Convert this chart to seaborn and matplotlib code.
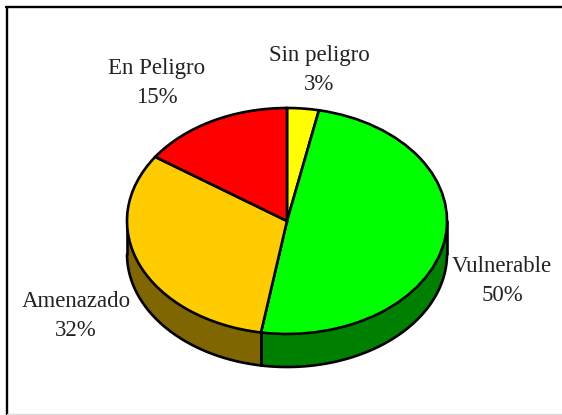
import numpy as np
import seaborn as sns
import matplotlib.pyplot as plt

labels = ['Sin peligro', 'Vulnerable', 'Amenazado', 'En Peligro']
valores = [3.2, 49.4, 32.0, 15.4]
textos = ['3%', '50%', '32%', '15%']
colores = ['#FFFF00', '#00FF00', '#FFCC00', '#FF0000']
oscuros = ['#808000', '#008000', '#806600', '#800000']

sns.set_theme(style="white")
plt.rcParams['font.family'] = ['Liberation Serif', 'DejaVu Serif']

W, H = 562, 415
fig = plt.figure(figsize=(W / 100, H / 100), dpi=100)
ax = fig.add_axes([0, 0, 1, 1])

# la elipse del pastel: 1 unidad = 160 px en x, 113 px en y
cx, cy, rx, ry, prof = 287, 221, 160, 113, 33 / 113
grosor = 1.9

# lados del pastel (solo la parte de delante)
inicio = 0
for v, c in zip(valores, oscuros):
    fin = inicio + v
    a = np.radians(np.linspace(inicio, fin, 200) * 3.6)
    a = a[np.cos(a) <= 0.0001]
    if len(a):
        x = np.sin(a)
        y = np.cos(a)
        ax.fill_between(x, y, y - prof, color=c, lw=0, zorder=1)
        ax.plot(x, y - prof, color='black', lw=grosor, zorder=2)
        for xa, ya in [(x[0], y[0]), (x[-1], y[-1])]:
            ax.plot([xa, xa], [ya, ya - prof], color='black', lw=grosor, zorder=2)
    inicio = fin

wedges, _ = ax.pie(valores, colors=colores, startangle=90, counterclock=False, radius=1,
                   wedgeprops={'edgecolor': 'black', 'linewidth': grosor, 'zorder': 3})

# el pie pone aspecto igual, aqui se quita para que quede eliptico
ax.set_aspect('auto')
ax.set_xlim(-cx / rx, (W - cx) / rx)
ax.set_ylim(-(H - cy) / ry, cy / ry)
ax.axis('off')

pos_etiquetas = [(319, 70), (502, 281), (76, 316), (157, 83)]
for lab, txt, (px, py) in zip(labels, textos, pos_etiquetas):
    ax.text((px - cx) / rx, (cy - py) / ry, lab + '\n' + txt, ha='center', va='center',
            fontsize=16.5, color='#222222', linespacing=1.5, zorder=5)

# marco
fig.add_artist(plt.Line2D([7 / W, 7 / W], [0, 1 - 7 / H], color='black', lw=1.7))
fig.add_artist(plt.Line2D([6 / W, 1], [1 - 7 / H, 1 - 7 / H], color='black', lw=1.7))
fig.add_artist(plt.Line2D([7 / W, 1], [1 / H, 1 / H], color='#dddddd', lw=1))

fig.savefig('out.png', dpi=100)
